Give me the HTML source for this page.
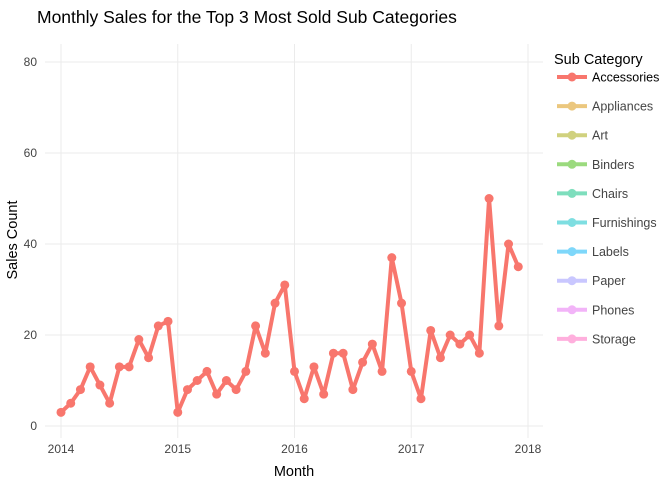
<!DOCTYPE html>
<html><head><meta charset="utf-8"><style>
body{margin:0;background:#fff;font-family:"Liberation Sans",sans-serif}
</style></head><body>
<svg id="chart" width="672" height="480" xmlns="http://www.w3.org/2000/svg">
<rect width="672" height="480" fill="#fff"/>
<g id="grid"></g>
<g id="axes"></g>
<g id="series"></g>
<text x="37" y="23" font-size="17.5" fill="#000">Monthly Sales for the Top 3 Most Sold Sub Categories</text>
<text x="294" y="476" font-size="14.5" text-anchor="middle" fill="#000">Month</text>
<text transform="translate(17,240) rotate(-90)" font-size="14.5" text-anchor="middle" fill="#000">Sales Count</text>
<g id="legend">
<text x="554" y="64" font-size="14.5" fill="#000">Sub Category</text>
</g>
</svg>
<script>
const values = [3,5,8,13,9,5,13,13,19,15,22,23,
  3,8,10,12,7,10,8,12,22,16,27,31,
  12,6,13,7,16,16,8,14,18,12,37,27,
  12,6,21,15,20,18,20,16,50,22,40,35];
const startYear = 2014;
const xTicks = [2014,2015,2016,2017,2018];
const yTicks = [0,20,40,60,80];
const legendNames = ["Accessories","Appliances","Art","Binders","Chairs","Furnishings","Labels","Paper","Phones","Storage"];
const legendColors = ["#F8766D","#D89000","#A3A500","#39B600","#00BF7D","#00BFC4","#00B0F6","#9590FF","#E76BF3","#FF62BC"];

const NS="http://www.w3.org/2000/svg";
const X0=45,X1=543,Y0=44,Y1=438;
function xs(t){return 61+(t-2014)*116.75;}
function ys(v){return 426-v*4.55;}
function mk(tag,attrs,parent){const e=document.createElementNS(NS,tag);for(const k in attrs)e.setAttribute(k,attrs[k]);parent.appendChild(e);return e;}
const grid=document.getElementById('grid'),axes=document.getElementById('axes'),ser=document.getElementById('series'),leg=document.getElementById('legend');
xTicks.forEach(t=>{
  const l=mk('line',{x1:xs(t),x2:xs(t),y1:Y0,y2:Y1,stroke:'#ebebeb','stroke-width':1},grid);
  
  
  const tx=mk('text',{x:xs(t),y:453,'font-size':12,'text-anchor':'middle',fill:'#444'},axes);
  tx.textContent=t;
  
  
});
yTicks.forEach(v=>{
  const l=mk('line',{x1:X0,x2:X1,y1:ys(v),y2:ys(v),stroke:'#ebebeb','stroke-width':1},grid);
  
  
  const tx=mk('text',{x:37,y:ys(v)+4,'font-size':12,'text-anchor':'end',fill:'#444'},axes);
  tx.textContent=v;
  
  
});
const pts=values.map((v,i)=>[xs(startYear+i/12),ys(v)]);
const pl=mk('polyline',{points:pts.map(p=>p.join(',')).join(' '),fill:'none',stroke:'#F8766D','stroke-width':4,'stroke-linejoin':'round'},ser);


pts.forEach(p=>{
  const c=mk('circle',{cx:p[0],cy:p[1],r:4.5,fill:'#F8766D'},ser);
  
  
});
legendNames.forEach((n,i)=>{
  const y=77+i*29.1, op=i===0?1:0.5;
  const g=mk('g',{opacity:op},leg);
  
  
  mk('line',{x1:557,x2:587,y1:y,y2:y,stroke:legendColors[i],'stroke-width':4},g);
  mk('circle',{cx:572,cy:y,r:4.5,fill:legendColors[i]},g);
  const t=mk('text',{x:592,y:y+4.5,'font-size':12.5,fill:i===0?'#000':'#444'},leg);
  t.textContent=n;
  
  
});
</script>
</body></html>
